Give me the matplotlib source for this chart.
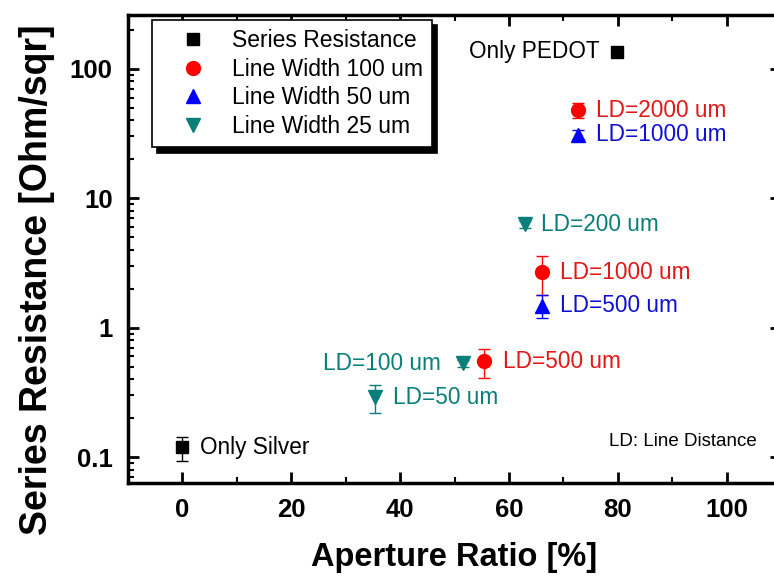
import matplotlib
matplotlib.use("Agg")
import matplotlib.pyplot as plt
import numpy as np

plt.rcParams['font.family'] = ['Liberation Sans', 'DejaVu Sans']

# series resistance of the reference films (only silver / only PEDOT)
ref_x = [0, 79.8]
ref_y = [0.119, 135]
ref_err = [0.025, 0]
ref_labels = ['Only Silver', 'Only PEDOT']

# line width 100 um
lw100_x = [72.6, 66.0, 55.5]
lw100_y = [48, 2.68, 0.55]
lw100_err = [6.5, 0.9, 0.14]
lw100_labels = ['LD=2000 um', 'LD=1000 um', 'LD=500 um']

# line width 50 um
lw50_x = [72.6, 66.0]
lw50_y = [31, 1.48]
lw50_err = [2.5, 0.3]
lw50_labels = ['LD=1000 um', 'LD=500 um']

# line width 25 um
lw25_x = [63.0, 51.5, 35.3]
lw25_y = [6.3, 0.53, 0.29]
lw25_err = [0.4, 0.03, 0.07]
lw25_labels = ['LD=200 um', 'LD=100 um', 'LD=50 um']

red = '#ff0000'
blue = '#0000ff'
teal = '#0a7f7a'

fig = plt.figure(figsize=(7.74, 5.8), dpi=100)
ax = fig.add_axes([0.1654, 0.167, 0.8437, 0.807])

ax.errorbar(ref_x, ref_y, yerr=ref_err, fmt='s', color='black', ms=8,
            capsize=4, elinewidth=1, label='Series Resistance')
ax.errorbar(lw100_x, lw100_y, yerr=lw100_err, fmt='o', color=red, ms=10,
            capsize=4, elinewidth=1, label='Line Width 100 um')
ax.errorbar(lw50_x, lw50_y, yerr=lw50_err, fmt='^', color=blue, ms=10,
            capsize=4, elinewidth=1, label='Line Width 50 um')
ax.errorbar(lw25_x, lw25_y, yerr=lw25_err, fmt='v', color=teal, ms=10,
            capsize=4, elinewidth=1, label='Line Width 25 um')

def tag(x, y, text, color, dx=13, ha='left'):
    ax.annotate(text, (x, y), xytext=(dx, 0), textcoords='offset points',
                ha=ha, va='center', color=color, fontsize=16.3)

tag(ref_x[0], ref_y[0], ref_labels[0], 'black')
tag(ref_x[1], ref_y[1], ref_labels[1], 'black', dx=-12, ha='right')
for x, y, t in zip(lw100_x, lw100_y, lw100_labels):
    tag(x, y, t, '#e01818')
for x, y, t in zip(lw50_x, lw50_y, lw50_labels):
    tag(x, y, t, '#1010d0')
tag(lw25_x[0], lw25_y[0], lw25_labels[0], teal, dx=11)
tag(lw25_x[1], lw25_y[1], lw25_labels[1], teal, dx=-16, ha='right')
tag(lw25_x[2], lw25_y[2], lw25_labels[2], teal)

ax.text(0.963, 0.09, 'LD: Line Distance', transform=ax.transAxes,
        ha='right', va='center', fontsize=13.5)

ax.set_yscale('log')
ax.set_xlim(-10, 110)
ax.set_ylim(0.063, 260)
ax.set_xticks([0, 20, 40, 60, 80, 100])
ax.set_xticks(np.arange(10, 110, 20), minor=True)
ax.set_yticks([0.1, 1, 10, 100])
ax.set_yticklabels(['0.1', '1', '10', '100'])

ax.tick_params(which='both', direction='in', top=True, right=True, width=2)
ax.tick_params(which='major', length=8, labelsize=18.5, pad=11)
ax.tick_params(which='minor', length=4, width=1.5)
for lab in ax.get_xticklabels() + ax.get_yticklabels():
    lab.set_fontweight('bold')
for sp in ax.spines.values():
    sp.set_linewidth(2.5)

ax.set_xlabel('Aperture Ratio [%]', fontsize=23.5, fontweight='bold', labelpad=14)
ax.set_ylabel('Series Resistance [Ohm/sqr]', fontsize=27, fontweight='bold')
ax.yaxis.set_label_coords(-0.112, 0.434)

handles, labels = ax.get_legend_handles_labels()
handles = [h[0] for h in handles]
leg = ax.legend(handles, labels, loc='upper left', bbox_to_anchor=(0.036, 0.99),
                borderaxespad=0, fontsize=16.5, fancybox=False, framealpha=1,
                edgecolor='black', handletextpad=0.3, labelspacing=0.25,
                borderpad=0.4, handlelength=2.8,
                shadow={'color': 'black', 'alpha': 1, 'ox': 4, 'oy': -4})
leg.get_frame().set_linewidth(1.2)

fig.savefig('out.png', dpi=100)
